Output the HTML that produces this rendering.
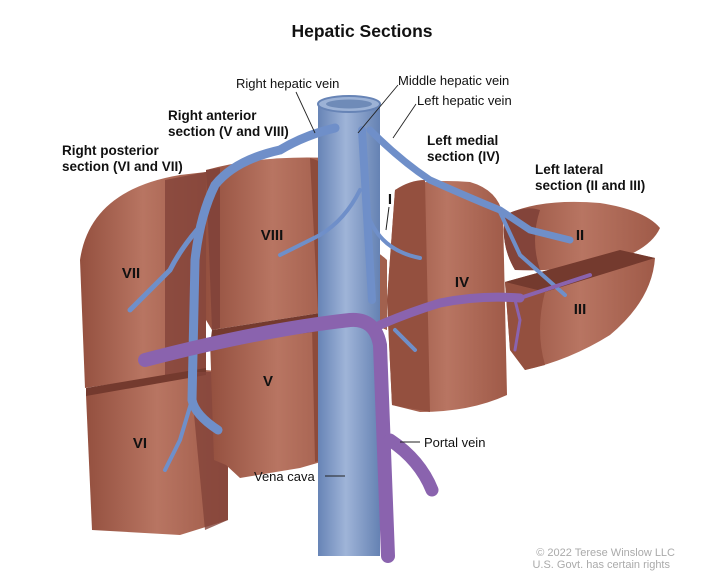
<!DOCTYPE html>
<html><head><meta charset="utf-8"><style>
html,body{margin:0;padding:0;background:#fff;width:720px;height:576px;overflow:hidden}
svg{display:block}
text{font-family:"Liberation Sans",Arial,sans-serif;fill:#111}
.b{font-weight:bold;font-size:13.5px}
.n{font-size:13px}
.r{font-weight:bold;font-size:15px}
</style></head><body>
<svg width="720" height="576" viewBox="0 0 720 576" xmlns="http://www.w3.org/2000/svg">
<defs>
<linearGradient id="lv" x1="0" x2="1" y1="0" y2="0">
<stop offset="0" stop-color="#94503f"/><stop offset="0.5" stop-color="#b87562"/><stop offset="1" stop-color="#9f5a48"/></linearGradient>
<linearGradient id="vc" x1="0" x2="1"><stop offset="0" stop-color="#6784b6"/><stop offset="0.45" stop-color="#9fb4d8"/><stop offset="1" stop-color="#6582b3"/></linearGradient>
</defs>
<text x="362" y="37" text-anchor="middle" style="font-weight:bold;font-size:17.5px">Hepatic Sections</text>

<!-- VII -->
<path d="M80,260 Q90,190 180,175 L206,172 L206,370 L85,388 Z" fill="url(#lv)"/>
<path d="M165,180 L206,172 L206,370 L165,376 Z" fill="#83443a" opacity="0.8"/>
<!-- VIII -->
<path d="M206,170 Q260,155 330,158 L339,165 L339,310 L212,330 L206,320 Z" fill="url(#lv)"/>
<path d="M206,170 L220,168 L220,328 L212,330 Z" fill="#83443a"/>
<path d="M310,158 Q338,165 339,200 L339,310 L318,313 Z" fill="#8d4b3b"/>
<!-- VI -->
<path d="M86,395 L205,370 L228,372 L228,520 L180,535 L92,530 Z" fill="url(#lv)"/>
<path d="M86,388 L206,368 L206,375 L86,396 Z" fill="#743a2e"/>
<path d="M190,372 L228,372 L228,520 L205,530 Z" fill="#83443a" opacity="0.8"/>
<!-- V -->
<path d="M210,340 L330,322 L345,328 L345,455 L300,468 L240,478 L226,465 L214,460 Z" fill="url(#lv)"/>
<path d="M212,330 L339,310 L345,328 L210,345 Z" fill="#743a2e"/>
<path d="M312,325 L345,328 L345,455 L315,462 Z" fill="#8d4b3b"/>
<!-- IV -->
<path d="M395,190 Q420,178 470,182 Q498,190 503,215 L507,395 Q470,412 420,412 L392,405 L387,300 Z" fill="url(#lv)"/>
<path d="M395,190 Q410,180 425,180 L430,412 L392,405 L387,300 Z" fill="#94503f"/>
<path d="M352,250 Q372,245 387,260 L387,330 L360,320 Z" fill="#a2614e"/>
<!-- II -->
<path d="M505,215 Q540,198 600,203 Q645,210 660,228 Q650,250 610,262 Q560,272 515,270 Q500,245 505,215 Z" fill="url(#lv)"/>
<path d="M505,215 Q525,205 540,210 Q530,240 540,270 L515,270 Q500,245 505,215 Z" fill="#83443a"/>
<!-- III -->
<path d="M505,282 L620,250 L655,258 Q652,300 610,335 Q570,360 525,370 L510,350 Z" fill="url(#lv)"/>
<path d="M505,282 L620,250 L655,258 L545,292 Z" fill="#743a2e"/>
<path d="M505,282 L545,292 Q535,330 545,365 L525,370 L510,350 Z" fill="#94503f"/>

<!-- vena cava -->
<rect x="318" y="104" width="62" height="452" fill="url(#vc)"/>
<ellipse cx="349" cy="104" rx="31" ry="8" fill="#9cb2d6" stroke="#6784b6" stroke-width="2"/>
<ellipse cx="349" cy="104" rx="23" ry="4.5" fill="#6f8bb8"/>

<!-- hepatic veins -->
<g fill="none" stroke="#6f8fc9" stroke-linecap="round">
<path d="M335,128 Q305,135 280,150 Q235,160 215,185 Q200,215 195,260 L192,400 Q195,415 218,430" stroke-width="9"/>
<path d="M197,230 Q180,250 170,270 L130,310" stroke-width="5"/>
<path d="M192,400 L180,440 L165,470" stroke-width="4"/>
<path d="M360,190 Q345,220 320,235 L280,255" stroke-width="4"/>
<path d="M368,215 Q380,250 420,258" stroke-width="4"/>
<path d="M362,130 L372,300" stroke-width="8"/>
<path d="M370,130 Q400,160 430,180 Q475,200 500,210 L530,230 L570,240" stroke-width="7"/>
<path d="M500,212 L520,255 L565,295" stroke-width="4"/>
<path d="M395,330 L415,350" stroke-width="4"/>
</g>
<!-- portal vein -->
<g fill="none" stroke="#8a63ae" stroke-linecap="round">
<path d="M145,360 Q260,330 350,320 Q375,318 380,345 L388,556" stroke-width="14"/>
<path d="M380,325 Q410,312 440,303 Q480,295 520,298" stroke-width="9"/>
<path d="M520,298 L590,275" stroke-width="4"/>
<path d="M515,300 L520,320 L515,350" stroke-width="3"/>
<path d="M390,440 Q420,460 432,490" stroke-width="13"/>
</g>

<!-- roman labels -->
<text class="r" x="131" y="278" text-anchor="middle">VII</text>
<text class="r" x="272" y="240" text-anchor="middle">VIII</text>
<text class="r" x="140" y="448" text-anchor="middle">VI</text>
<text class="r" x="268" y="386" text-anchor="middle">V</text>
<text class="r" x="462" y="287" text-anchor="middle">IV</text>
<text class="r" x="580" y="240" text-anchor="middle">II</text>
<text class="r" x="580" y="314" text-anchor="middle">III</text>
<text class="r" x="390" y="204" text-anchor="middle">I</text>
<line x1="389" y1="207" x2="386" y2="230" stroke="#222" stroke-width="1"/>

<!-- callouts -->
<g stroke="#222" stroke-width="0.9">
<line x1="296" y1="92" x2="315" y2="133"/>
<line x1="398" y1="85" x2="358" y2="133"/>
<line x1="416" y1="104" x2="393" y2="138"/>
<line x1="400" y1="442" x2="420" y2="442"/>
<line x1="325" y1="476" x2="345" y2="476"/>
</g>
<text class="n" x="236" y="88">Right hepatic vein</text>
<text class="n" x="398" y="85">Middle hepatic vein</text>
<text class="n" x="417" y="105">Left hepatic vein</text>
<text class="b" x="168" y="120">Right anterior</text>
<text class="b" x="168" y="136">section (V and VIII)</text>
<text class="b" x="62" y="155">Right posterior</text>
<text class="b" x="62" y="171">section (VI and VII)</text>
<text class="b" x="427" y="145">Left medial</text>
<text class="b" x="427" y="161">section (IV)</text>
<text class="b" x="535" y="174">Left lateral</text>
<text class="b" x="535" y="190">section (II and III)</text>
<text class="n" x="424" y="447">Portal vein</text>
<text class="n" x="254" y="481">Vena cava</text>
<text x="675" y="556" text-anchor="end" style="font-size:11px;fill:#aaa">© 2022 Terese Winslow LLC</text>
<text x="670" y="568" text-anchor="end" style="font-size:11px;fill:#aaa">U.S. Govt. has certain rights</text>
</svg>
</body></html>
